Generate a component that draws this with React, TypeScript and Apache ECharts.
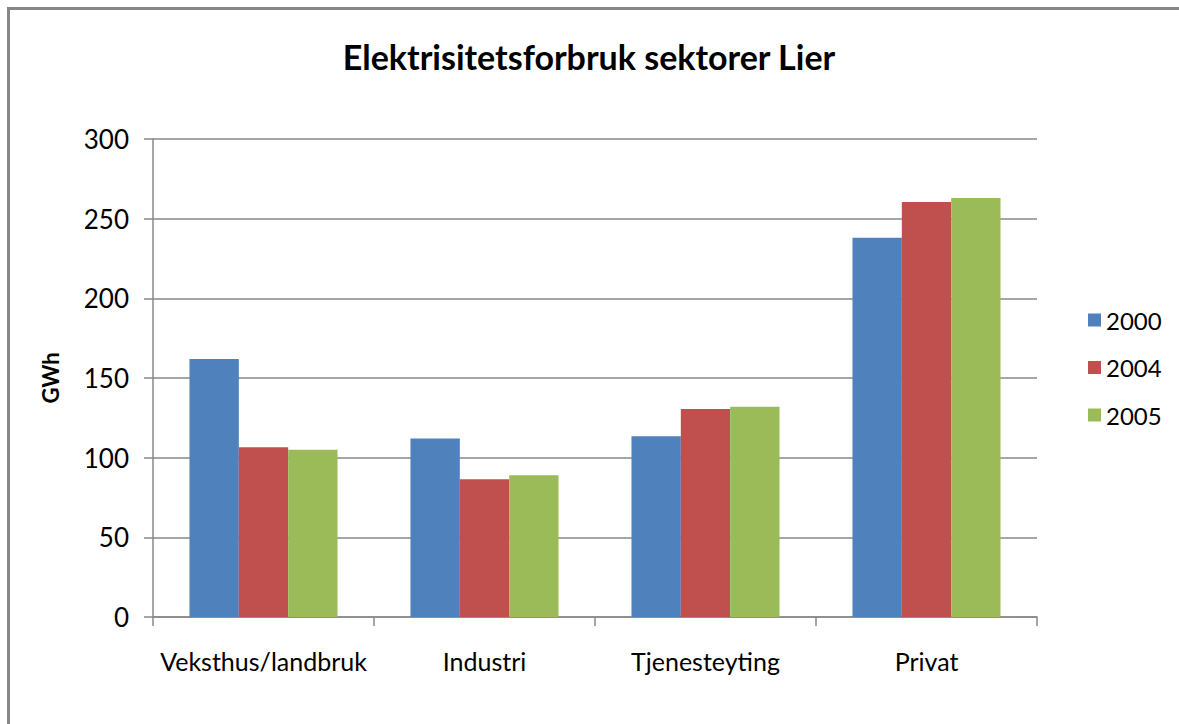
import React, { useEffect, useRef } from "react";
import * as echarts from "echarts";

const categories = ["Veksthus/landbruk", "Industri", "Tjenesteyting", "Privat"];
const years = ["2000", "2004", "2005"];
const values2000 = [162, 112, 113.5, 238];
const values2004 = [106.5, 86.5, 130.5, 260.5];
const values2005 = [105, 89, 132, 263];
const yTicks = [0, 50, 100, 150, 200, 250, 300];
const colors = ["#4F81BD", "#C0504D", "#9BBB59"];

const FONT = "Lato, 'Open Sans', sans-serif";

export default function App() {
  const ref = useRef<HTMLDivElement>(null);
  useEffect(() => {
    if (!ref.current) return;
    const chart = echarts.init(ref.current, undefined, { renderer: "svg" });
    const seriesData = [values2000, values2004, values2005];
    chart.setOption({
      animation: false,
      backgroundColor: "#ffffff",
      textStyle: { fontFamily: FONT },
      title: {
        text: "Elektrisitetsforbruk sektorer Lier",
        left: 584,
        textAlign: "center",
        top: 34,
        textStyle: { fontSize: 34, fontWeight: "bold", color: "#000", fontFamily: FONT },
      },
      legend: {
        orient: "vertical",
        left: 1083,
        top: 303,
        itemWidth: 13,
        itemHeight: 13,
        itemGap: 23.5,
        icon: "rect",
        data: years,
        textStyle: { fontSize: 24, color: "#000", fontFamily: FONT },
      },
      grid: { left: 153, right: 142, top: 139, bottom: 107, containLabel: false },
      xAxis: {
        type: "category",
        data: categories,
        axisLine: { lineStyle: { color: "#888", width: 1.5 } },
        axisTick: { show: true, length: 9, lineStyle: { color: "#888", width: 1.5 } },
        axisLabel: { interval: 0, fontSize: 25, color: "#000", margin: 31, fontFamily: FONT },
      },
      yAxis: {
        type: "value",
        min: yTicks[0],
        max: yTicks[yTicks.length - 1],
        interval: 50,
        name: "GWh",
        nameLocation: "middle",
        nameGap: 92,
        nameTextStyle: { fontSize: 22, fontWeight: "bold", color: "#000", fontFamily: FONT },
        axisLine: { show: true, lineStyle: { color: "#888", width: 1.5 } },
        axisTick: { show: true, length: 9, lineStyle: { color: "#888", width: 1.5 } },
        splitLine: { lineStyle: { color: "#888", width: 1.5 } },
        axisLabel: { fontSize: 26, color: "#000", margin: 24, fontFamily: FONT },
      },
      series: years.map((y, i) => ({
        name: y,
        type: "bar",
        data: seriesData[i],
        barGap: "0%",
        barCategoryGap: "33%",
        itemStyle: { color: colors[i] },
      })),
      graphic: [
        { type: "line", shape: { x1: 7, y1: 8.5, x2: 1179, y2: 8.5 }, style: { stroke: "#878787", lineWidth: 3 } },
        { type: "line", shape: { x1: 8.5, y1: 7, x2: 8.5, y2: 724 }, style: { stroke: "#878787", lineWidth: 3 } },
      ],
    });
    return () => chart.dispose();
  }, []);
  return (
    <div
      ref={ref}
      style={{ position: "fixed", left: 0, top: 0, width: 1179, height: 724 }}
    />
  );
}
